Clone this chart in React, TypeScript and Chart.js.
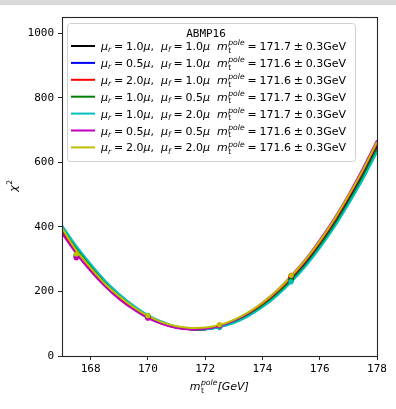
import React, { useEffect, useRef } from "react";
import { Chart, registerables } from "chart.js";

Chart.register(...registerables);

// ---------------- data ----------------
const xGrid = [167, 167.5, 168, 168.5, 169, 169.5, 170, 170.5, 171, 171.5, 172, 172.5, 173, 173.5, 174, 174.5, 175, 175.5, 176, 176.5, 177, 177.5, 178];

const curveBlack = [391, 329, 274, 225, 184, 150, 122, 102, 89, 83, 83, 91, 106, 128, 158, 194, 238, 288, 346, 411, 484, 563, 650];
const curveBlue = [387, 325, 271, 222, 182, 148, 121, 101, 88, 83, 83, 92, 107, 130, 160, 196, 241, 291, 350, 415, 489, 568, 655];
const curveRed = [384, 323, 269, 220, 180, 147, 120, 100, 88, 83, 83, 92, 108, 131, 161, 198, 243, 294, 352, 418, 492, 571, 659];
const curveGreen = [398, 335, 279, 230, 188, 153, 124, 104, 90, 83, 83, 90, 104, 125, 155, 190, 233, 282, 340, 404, 476, 555, 641];
const curveCyan = [405, 341, 285, 234, 192, 156, 127, 106, 91, 84, 82, 89, 102, 123, 151, 186, 228, 277, 334, 397, 469, 546, 632];
const curveMagenta = [380, 317, 263, 216, 176, 144, 117, 99, 87, 82, 84, 93, 110, 133, 165, 202, 248, 299, 359, 425, 499, 580, 668];
const curveYellow = [396, 327, 273, 224, 184, 151, 124, 104, 92, 87, 88, 96, 112, 135, 165, 202, 247, 298, 356, 422, 496, 575, 663];

const xPoints = [167.5, 170, 172.5, 175];
const ptsBlack = [310, 122, 91, 240];
const ptsBlue = [308, 121, 92, 243];
const ptsRed = [306, 120, 93, 246];
const ptsGreen = [313, 124, 90, 235];
const ptsCyan = [314, 126, 88, 230];
const ptsMagenta = [304, 117, 93, 250];
const ptsYellow = [316, 125, 97, 250];

const colors = ["#000000", "#0000ff", "#ff0000", "#008000", "#00bfbf", "#bf00bf", "#bfbf00"];
const muR = ["1.0", "0.5", "2.0", "1.0", "1.0", "0.5", "2.0"];
const muF = ["1.0", "1.0", "1.0", "0.5", "2.0", "0.5", "2.0"];
const mPole = ["171.7", "171.6", "171.6", "171.7", "171.7", "171.6", "171.6"];
const mErr = "0.3";
const legendTitle = "ABMP16";

const xTicks = [168, 170, 172, 174, 176, 178];
const yTicks = [0, 200, 400, 600, 800, 1000];

const curves = [curveBlack, curveBlue, curveRed, curveGreen, curveCyan, curveMagenta, curveYellow];
const points = [ptsBlack, ptsBlue, ptsRed, ptsGreen, ptsCyan, ptsMagenta, ptsYellow];

// ---------------- drawing helpers ----------------
const SANS = '"DejaVu Sans"';
const MONO = '"DejaVu Sans Mono"';

function seg(ctx: CanvasRenderingContext2D, x: number, y: number, text: string, italic: boolean, size: number, dy = 0) {
  ctx.font = `${italic ? "italic " : ""}${size}px ${SANS}`;
  ctx.fillText(text, x, y + dy);
  return ctx.measureText(text).width;
}

function drawMTPole(ctx: CanvasRenderingContext2D, x: number, y: number, fs: number) {
  let cx = x;
  cx += seg(ctx, cx, y, "m", true, fs);
  const w1 = seg(ctx, cx + 0.5, y, "pole", true, fs * 0.7, -fs * 0.42);
  const w2 = seg(ctx, cx + 0.5, y, "t", false, fs * 0.7, fs * 0.25);
  cx += Math.max(w1, w2) + 0.5;
  return cx - x;
}

function drawRow(ctx: CanvasRenderingContext2D, x0: number, y: number, i: number) {
  const fs = 11;
  const sp = 2.8;
  ctx.fillStyle = "#000";
  ctx.textAlign = "left";
  ctx.textBaseline = "alphabetic";
  let x = x0;
  x += seg(ctx, x, y, "μ", true, fs);
  x += seg(ctx, x, y, "r", true, fs * 0.7, fs * 0.22);
  x += sp;
  x += seg(ctx, x, y, "=", false, fs);
  x += sp;
  x += seg(ctx, x, y, muR[i], false, fs);
  x += seg(ctx, x, y, "μ", true, fs);
  x += seg(ctx, x, y, ",  ", false, fs);
  x += seg(ctx, x, y, "μ", true, fs);
  x += seg(ctx, x, y, "f", true, fs * 0.7, fs * 0.22);
  x += sp;
  x += seg(ctx, x, y, "=", false, fs);
  x += sp;
  x += seg(ctx, x, y, muF[i], false, fs);
  x += seg(ctx, x, y, "μ", true, fs);
  x += seg(ctx, x, y, "  ", false, fs);
  x += drawMTPole(ctx, x, y, fs);
  x += sp;
  x += seg(ctx, x, y, "=", false, fs);
  x += sp;
  x += seg(ctx, x, y, mPole[i], false, fs);
  x += sp;
  x += seg(ctx, x, y, "±", false, fs);
  x += sp;
  x += seg(ctx, x, y, mErr, false, fs);
  x += seg(ctx, x, y, "GeV", false, fs);
}

function roundRect(ctx: CanvasRenderingContext2D, x: number, y: number, w: number, h: number, r: number) {
  ctx.beginPath();
  ctx.moveTo(x + r, y);
  ctx.lineTo(x + w - r, y);
  ctx.arcTo(x + w, y, x + w, y + r, r);
  ctx.lineTo(x + w, y + h - r);
  ctx.arcTo(x + w, y + h, x + w - r, y + h, r);
  ctx.lineTo(x + r, y + h);
  ctx.arcTo(x, y + h, x, y + h - r, r);
  ctx.lineTo(x, y + r);
  ctx.arcTo(x, y, x + r, y, r);
  ctx.closePath();
}

const decorPlugin = {
  id: "decor",
  afterDraw(chart: any) {
    const ctx: CanvasRenderingContext2D = chart.ctx;
    const a = chart.chartArea;
    ctx.save();
    // frame
    ctx.strokeStyle = "#262626";
    ctx.lineWidth = 1.1;
    ctx.strokeRect(Math.round(a.left) + 0.5, Math.round(a.top) + 0.5, Math.round(a.right - a.left), Math.round(a.bottom - a.top));

    // legend
    const lx = a.left + 5, ly = a.top + 6, lw = 288, lh = 138;
    roundRect(ctx, lx + 0.5, ly + 0.5, lw, lh, 3);
    ctx.fillStyle = "rgba(255,255,255,0.8)";
    ctx.fill();
    ctx.strokeStyle = "#d0d0d0";
    ctx.lineWidth = 1;
    ctx.stroke();

    ctx.fillStyle = "#000";
    ctx.font = `11px ${MONO}`;
    ctx.textAlign = "center";
    ctx.textBaseline = "alphabetic";
    ctx.fillText(legendTitle, lx + lw / 2 - 5, ly + 14);

    const rowH = 16.9;
    for (let i = 0; i < colors.length; i++) {
      const cy = ly + 23 + i * rowH;
      ctx.strokeStyle = colors[i];
      ctx.lineWidth = 2;
      ctx.beginPath();
      ctx.moveTo(lx + 4, cy);
      ctx.lineTo(lx + 28, cy);
      ctx.stroke();
      drawRow(ctx, lx + 34, cy + 4, i);
    }

    // x title
    ctx.fillStyle = "#000";
    const fs = 11;
    ctx.font = `italic ${fs}px ${SANS}`;
    const cxMid = (a.left + a.right) / 2;
    const wM = ctx.measureText("m").width;
    ctx.font = `italic ${fs * 0.7}px ${SANS}`;
    const wP = ctx.measureText("pole").width;
    ctx.font = `italic ${fs}px ${SANS}`;
    const wG = ctx.measureText("[GeV]").width;
    const total = wM + wP + 1 + wG;
    let x = cxMid - total / 2;
    const by = 390;
    ctx.textAlign = "left";
    x += drawMTPole(ctx, x, by, fs);
    seg(ctx, x, by, "[GeV]", true, fs);

    // y title
    ctx.save();
    ctx.translate(17, 186);
    ctx.rotate(-Math.PI / 2);
    ctx.textAlign = "left";
    ctx.font = `italic ${fs}px ${SANS}`;
    const wc = ctx.measureText("χ").width;
    let yx = -(wc + 5) / 2;
    yx += seg(ctx, yx, 0, "χ", true, fs);
    seg(ctx, yx + 0.5, 0, "2", false, fs * 0.7, -fs * 0.42);
    ctx.restore();

    ctx.restore();
  },
};

export default function App() {
  const ref = useRef<HTMLCanvasElement | null>(null);
  useEffect(() => {
    if (!ref.current) return;
    const lineSets = curves.map((c, i) => ({
      type: "line" as const,
      data: xGrid.map((x, j) => ({ x, y: c[j] })),
      borderColor: colors[i],
      backgroundColor: colors[i],
      borderWidth: 2,
      pointRadius: 0,
      tension: 0.3,
      fill: false,
      order: 20 - i,
    }));
    const ptSets = points.map((p, i) => ({
      type: "scatter" as const,
      data: xPoints.map((x, j) => ({ x, y: p[j] })),
      borderColor: colors[i],
      backgroundColor: colors[i],
      pointRadius: 2.6,
      pointBorderWidth: 0,
      showLine: false,
      order: 10 - i,
    }));
    const chart = new Chart(ref.current, {
      type: "line",
      data: { datasets: [...lineSets, ...ptSets] as any },
      plugins: [decorPlugin],
      options: {
        animation: false,
        responsive: false,
        devicePixelRatio: 1,
        layout: { padding: { left: 0, right: 19, top: 17, bottom: 0 } },
        plugins: { legend: { display: false }, tooltip: { enabled: false } },
        scales: {
          x: {
            type: "linear",
            min: 167,
            max: 178,
            afterBuildTicks: (s: any) => { s.ticks = xTicks.map((v) => ({ value: v })); },
            afterFit: (s: any) => { s.height = 53; },
            grid: { display: true, drawOnChartArea: false, drawTicks: true, tickLength: 4, color: "#262626" },
            border: { display: false },
            ticks: { color: "#000", font: { family: "DejaVu Sans Mono", size: 11 }, padding: 3, maxRotation: 0, callback: (v: any) => String(v) },
          },
          y: {
            type: "linear",
            min: 0,
            max: 1050,
            afterBuildTicks: (s: any) => { s.ticks = yTicks.map((v) => ({ value: v })); },
            afterFit: (s: any) => { s.width = 62; },
            grid: { display: true, drawOnChartArea: false, drawTicks: true, tickLength: 4, color: "#262626" },
            border: { display: false },
            ticks: { color: "#000", font: { family: "DejaVu Sans Mono", size: 11 }, padding: 4, callback: (v: any) => String(v) },
          },
        },
      },
    });
    return () => chart.destroy();
  }, []);
  return (
    <div style={{ position: "absolute", left: 0, top: 0, width: 396, height: 409, background: "#fff" }}>
      <div style={{ position: "absolute", left: 0, top: 0, width: 396, height: 5, background: "#d9d9d9" }} />
      <canvas ref={ref} width={396} height={409} style={{ display: "block", position: "relative" }} />
    </div>
  );
}
